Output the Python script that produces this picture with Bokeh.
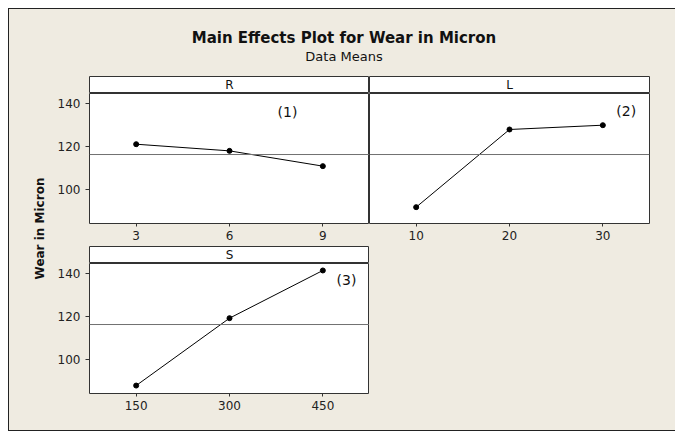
from math import pi
from bokeh.plotting import figure
from bokeh.layouts import column, row
from bokeh.models import Span, Range1d, FixedTicker, Label
from bokeh.embed import file_html
from bokeh.resources import INLINE

# ---- data ----
title_text = "Main Effects Plot for Wear in Micron"
subtitle_text = "Data Means"
y_label = "Wear in Micron"

factors = ["R", "L", "S"]
R_levels = [3, 6, 9]
R_means = [120.9, 117.8, 110.7]
L_levels = [10, 20, 30]
L_means = [91.6, 127.75, 129.75]
S_levels = [150, 300, 450]
S_means = [87.7, 119.05, 141.25]
grand_mean = 116.1
y_ticks = [100, 120, 140]
notes = ["(1)", "(2)", "(3)"]

# ---- style ----
BG = "#efebe1"
FONT = "DejaVu Sans"
EDGE = "#333333"
Y_RANGE = (84, 144.5)


def header(label, width, left, right):
    h = figure(width=width, height=17, x_range=Range1d(0, 1), y_range=Range1d(0, 1),
               x_axis_location=None, y_axis_location=None,
               min_border_left=left, min_border_right=right, min_border_top=0, min_border_bottom=0,
               output_backend="svg", toolbar_location=None)
    h.grid.visible = False
    h.background_fill_color = "white"
    h.border_fill_color = BG
    h.outline_line_color = EDGE
    h.outline_line_width = 1
    h.add_layout(Label(x=0.5, y=0.5, text=label, text_align="center", text_baseline="middle",
                       text_font=FONT, text_font_size="12px", text_color="#111111"))
    return h


def panel(levels, means, xr, note, note_frac, width, height, left, right, bottom, show_y):
    p = figure(width=width, height=height, x_range=Range1d(*xr), y_range=Range1d(*Y_RANGE),
               y_axis_location="left" if show_y else None,
               min_border_left=left, min_border_right=right, min_border_top=0,
               min_border_bottom=bottom, output_backend="svg", toolbar_location=None)
    p.grid.visible = False
    p.background_fill_color = "white"
    p.border_fill_color = BG
    p.outline_line_color = EDGE
    p.outline_line_width = 1
    axes = [p.xaxis[0]] + ([p.yaxis[0]] if show_y else [])
    for ax in axes:
        ax.axis_line_color = None
        ax.major_tick_line_color = EDGE
        ax.minor_tick_line_color = None
        ax.major_tick_in = 0
        ax.major_label_text_font = FONT
        ax.major_label_text_font_size = "12px"
        ax.major_label_text_color = "#222222"
    p.xaxis.ticker = FixedTicker(ticks=levels)
    p.xaxis.major_tick_out = 3
    p.xaxis.major_label_standoff = 4
    if show_y:
        p.yaxis.ticker = FixedTicker(ticks=y_ticks)
        p.yaxis.major_tick_out = 4
        p.yaxis.major_label_standoff = 5
    p.add_layout(Span(location=grand_mean, dimension="width", line_color="#707070", line_width=1))
    p.line(levels, means, line_color="black", line_width=1)
    p.scatter(levels, means, size=5, color="black")
    nx = xr[0] + note_frac[0] * (xr[1] - xr[0])
    ny = Y_RANGE[0] + note_frac[1] * (Y_RANGE[1] - Y_RANGE[0])
    p.add_layout(Label(x=nx, y=ny, text=note, text_align="center", text_baseline="middle",
                       text_font=FONT, text_font_size="14px", text_color="#111111"))
    return p


# title block
tfig = figure(width=666, height=67, x_range=Range1d(0, 1), y_range=Range1d(0, 1),
              x_axis_location=None, y_axis_location=None,
              min_border_left=0, min_border_right=0, min_border_top=0, min_border_bottom=0,
              output_backend="svg", toolbar_location=None)
tfig.grid.visible = False
tfig.background_fill_color = BG
tfig.border_fill_color = BG
tfig.outline_line_color = None
tfig.add_layout(Label(x=334.5, y=38.5, x_units="screen", y_units="screen", text=title_text,
                      text_align="center", text_baseline="alphabetic", text_font=FONT,
                      text_font_size="15px", text_font_style="bold", text_color="#111111"))
tfig.add_layout(Label(x=334.5, y=20.5, x_units="screen", y_units="screen", text=subtitle_text,
                      text_align="center", text_baseline="alphabetic", text_font=FONT,
                      text_font_size="13px", text_color="#111111"))

# y label strip
yfig = figure(width=41, height=354, x_range=Range1d(0, 1), y_range=Range1d(0, 1),
              x_axis_location=None, y_axis_location=None,
              min_border_left=0, min_border_right=0, min_border_top=0, min_border_bottom=0,
              output_backend="svg", toolbar_location=None)
yfig.grid.visible = False
yfig.background_fill_color = BG
yfig.border_fill_color = BG
yfig.outline_line_color = None
yfig.add_layout(Label(x=30, y=202, x_units="screen", y_units="screen", text=y_label, angle=pi / 2,
                      text_align="center", text_baseline="middle", text_font=FONT,
                      text_font_size="12px", text_font_style="bold", text_color="#111111"))

hR = header(factors[0], 319, 39, 0)
hL = header(factors[1], 306, 0, 26)
hS = header(factors[2], 319, 39, 0)

pR = panel(R_levels, R_means, (1.5, 10.5), notes[0], (0.707, 0.856), 319, 153, 39, 0, 23, True)
pL = panel(L_levels, L_means, (5, 35), notes[1], (0.917, 0.866), 306, 153, 0, 26, 23, False)
pS = panel(S_levels, S_means, (75, 525), notes[2], (0.918, 0.871), 319, 167, 39, 0, 37, True)

grid = column(row(hR, hL), row(pR, pL), hS, pS)
inner = column(tfig, row(yfig, grid),
               styles={"background-color": BG, "border-left": "1px solid #222",
                       "border-top": "1px solid #222", "border-bottom": "1px solid #222"})
layout = column(inner, margin=(8, 0, 0, 8))

open("out.html", "w").write(file_html(layout, INLINE))
